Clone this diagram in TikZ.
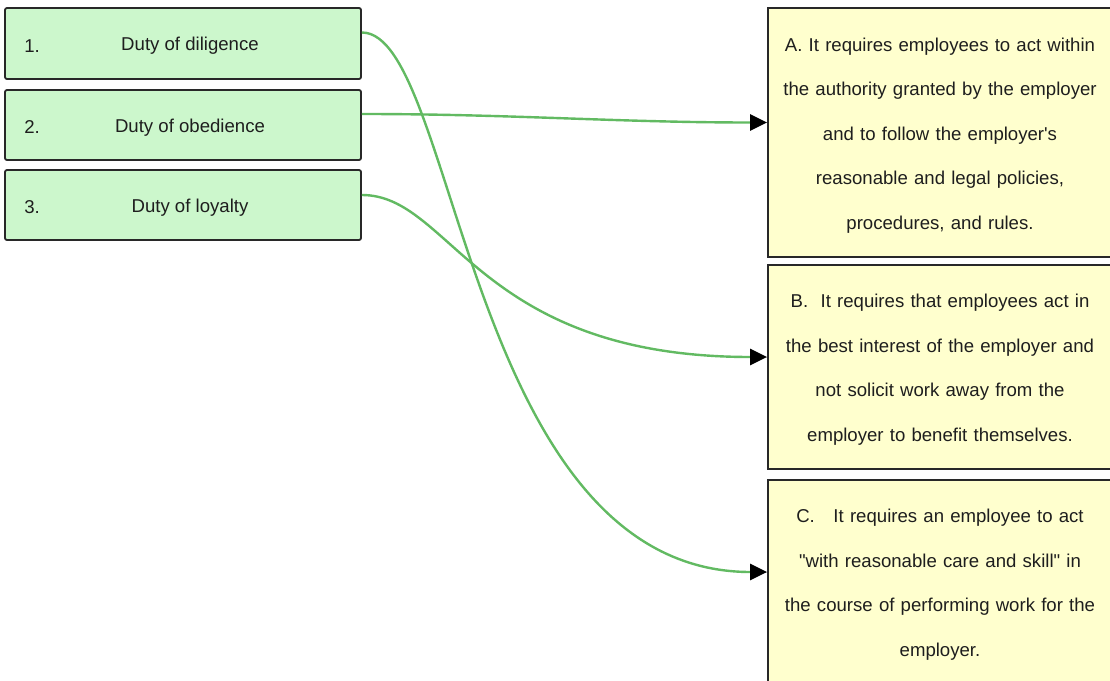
\documentclass[tikz,border=0pt]{standalone}
\usepackage{fontspec}
\setmainfont{Liberation Sans}
\usetikzlibrary{arrows.meta}
\definecolor{boxgreen}{RGB}{204,247,204}
\definecolor{boxyellow}{RGB}{255,255,206}
\definecolor{edgegray}{RGB}{40,40,40}
\definecolor{txtgray}{RGB}{30,30,30}
\definecolor{curvegreen}{RGB}{98,186,98}
\newcommand{\tstrut}{\rule{0pt}{19pt}}
\tikzset{
  lbox/.style={draw=edgegray, line width=1.8pt, fill=boxgreen, rounded corners=2pt,
    minimum width=356pt, minimum height=70pt, inner sep=0pt},
  rbox/.style={draw=edgegray, line width=1.8pt, fill=boxyellow,
    minimum width=344pt, minimum height=204pt, inner sep=0pt, text width=340pt,
    align=center, text=txtgray, font=\fontsize{18.6}{44.5}\selectfont},
  ltxt/.style={text=txtgray, font=\fontsize{18.6}{22}\selectfont, inner sep=0pt, yshift=-2.5pt},
  conn/.style={draw=curvegreen, line width=2.4pt,
    -{Triangle[length=17pt,width=16pt,fill=black,color=black]}},
}
\begin{document}
\begin{tikzpicture}[x=1pt,y=1pt]
\fill[white] (0,0) rectangle (1110,-680);
\useasboundingbox (0,0) rectangle (1110,-680);
% left boxes
\node[lbox, minimum height=71pt] (d1) at (183,-43.5) {};
\node[lbox] (d2) at (183,-125) {};
\node[lbox] (d3) at (183,-205) {};
\node[ltxt, anchor=west] (n1) at ([xshift=20pt]d1.west) {1.};
\node[ltxt] (t1) at ([xshift=7pt]d1.center) {Duty of diligence};
\node[ltxt, anchor=west] (n2) at ([xshift=20pt]d2.west) {2.};
\node[ltxt] (t2) at ([xshift=7pt]d2.center) {Duty of obedience};
\node[ltxt, anchor=west] (n3) at ([xshift=20pt]d3.west) {3.};
\node[ltxt] (t3) at ([xshift=7pt]d3.center) {Duty of loyalty};
% right boxes
\node[rbox, minimum height=249pt] (cA) at (940,-132.5) {\tstrut A. It requires employees to act within\\the authority granted by the employer\\and to follow the employer\textquotesingle s\\reasonable and legal policies,\\procedures, and rules.};
\node[rbox] (cB) at (940,-367) {\tstrut B.\ \ It requires that employees act in\\the best interest of the employer and\\not solicit work away from the\\employer to benefit themselves.};
\node[rbox] (cC) at (940,-582) {\tstrut C.\quad It requires an employee to act\\\textquotedbl with reasonable care and skill\textquotedbl\ in\\the course of performing work for the\\employer.};
% connectors
\draw[conn] ([yshift=11pt]d2.east) .. controls +(150,0) and +(-150,0) .. ([yshift=10pt]cA.west);
\draw[conn] ([yshift=10pt]d3.east) .. controls +(90,0) and +(-290,0) .. ([yshift=10pt]cB.west);
\draw[conn] ([yshift=11pt]d1.east) .. controls +(95,0) and +(-300,0) .. ([yshift=10pt]cC.west);
\end{tikzpicture}
\end{document}
